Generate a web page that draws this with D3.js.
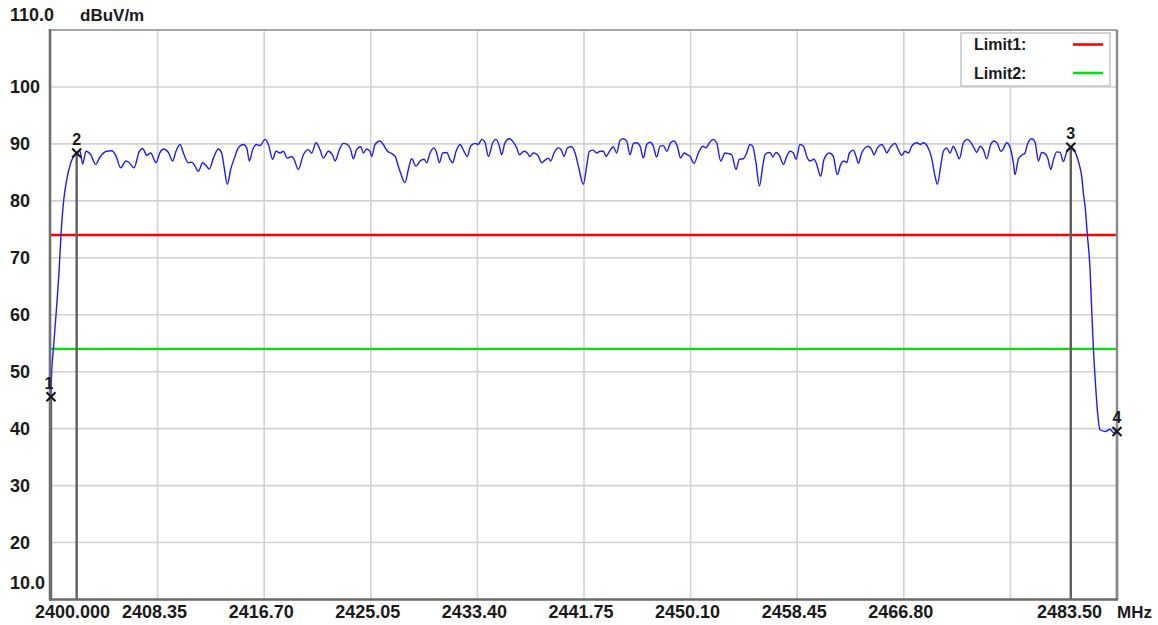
<!DOCTYPE html>
<html>
<head>
<meta charset="utf-8">
<script src="https://cdn.jsdelivr.net/npm/d3@7/dist/d3.min.js"></script>
<style>
  html, body { margin: 0; padding: 0; background: #ffffff; }
  svg { display: block; }
  text { font-family: "Liberation Sans", Arial, sans-serif; font-weight: bold; fill: #1a1a1a; }
</style>
</head>
<body>
<svg id="chart" width="1158" height="625"></svg>
<script>
// Frequency axis (MHz) and level axis (dBuV/m)
const freqStart = 2400.000;
const freqStop = 2483.50;
const levelMin = 10;
const levelMax = 110;

// Interior frequency grid lines and their labels
const freqGrid = [2408.35, 2416.70, 2425.05, 2433.40, 2441.75, 2450.10, 2458.45, 2466.80, 2475.15];
const freqGridLabels = ["2408.35", "2416.70", "2425.05", "2433.40", "2441.75", "2450.10", "2458.45", "2466.80", ""];
const startLabel = "2400.000";
const stopLabel = "2483.50";
const freqUnit = "MHz";

// Level grid lines and labels
const levelGrid = [20, 30, 40, 50, 60, 70, 80, 90, 100];
const levelGridLabels = ["20", "30", "40", "50", "60", "70", "80", "90", "100"];
const topLabel = "110.0";
const bottomLabel = "10.0";
const levelUnit = "dBuV/m";

// Limit lines
const limitNames = ["Limit1:", "Limit2:"];
const limitValues = [74, 54];
const limitColors = ["#ff0000", "#00e600"];

// Measured trace: frequency (MHz) and level (dBuV/m)
const traceFreq = [
  2400.00, 2400.05, 2400.18, 2400.44, 2400.65, 2400.78, 2400.97, 2401.23, 2401.54, 2401.80,
  2402.01, 2402.27, 2402.48, 2402.74, 2403.11, 2403.50, 2403.84, 2404.36, 2404.75, 2405.07,
  2405.46, 2405.87, 2406.13, 2406.50, 2406.92, 2407.18, 2407.50, 2407.81, 2408.22, 2408.54,
  2408.80, 2409.19, 2409.53, 2409.79, 2410.11, 2410.37, 2410.76, 2411.02, 2411.28, 2411.54,
  2411.88, 2412.14, 2412.40, 2412.72, 2413.11, 2413.37, 2413.55, 2413.81, 2414.07, 2414.41,
  2414.67, 2415.07, 2415.33, 2415.54, 2415.80, 2416.11, 2416.37, 2416.76, 2417.03, 2417.36,
  2417.63, 2417.94, 2418.20, 2418.51, 2418.85, 2419.04, 2419.37, 2419.77, 2420.16, 2420.42,
  2420.76, 2421.07, 2421.33, 2421.72, 2422.06, 2422.25, 2422.59, 2422.90, 2423.21, 2423.47,
  2423.68, 2423.94, 2424.26, 2424.47, 2424.73, 2424.99, 2425.12, 2425.38, 2425.77, 2426.03,
  2426.35, 2426.61, 2426.95, 2427.29, 2427.73, 2427.99, 2428.25, 2428.59, 2428.91, 2429.22,
  2429.43, 2429.69, 2430.00, 2430.21, 2430.42, 2430.68, 2430.99, 2431.26, 2431.46, 2431.73,
  2432.04, 2432.35, 2432.61, 2432.87, 2433.21, 2433.47, 2433.74, 2433.99, 2434.26, 2434.60,
  2434.86, 2435.12, 2435.30, 2435.56, 2435.90, 2436.22, 2436.48, 2436.69, 2437.05, 2437.31,
  2437.52, 2437.78, 2438.10, 2438.44, 2438.78, 2438.96, 2439.14, 2439.40, 2439.74, 2439.95,
  2440.19, 2440.45, 2440.79, 2441.05, 2441.31, 2441.70, 2441.96, 2442.17, 2442.48, 2442.74,
  2443.01, 2443.27, 2443.48, 2443.74, 2444.05, 2444.31, 2444.57, 2444.83, 2445.09, 2445.36,
  2445.62, 2445.88, 2446.14, 2446.40, 2446.66, 2446.92, 2447.18, 2447.44, 2447.71, 2447.97,
  2448.23, 2448.54, 2448.80, 2449.06, 2449.32, 2449.59, 2449.85, 2450.06, 2450.37, 2450.71,
  2451.05, 2451.31, 2451.57, 2451.88, 2452.14, 2452.46, 2452.80, 2453.06, 2453.32, 2453.66,
  2453.92, 2454.23, 2454.49, 2454.75, 2454.96, 2455.22, 2455.49, 2455.75, 2455.93, 2456.19,
  2456.37, 2456.53, 2456.79, 2457.05, 2457.37, 2457.63, 2457.89, 2458.15, 2458.36, 2458.67,
  2458.93, 2459.25, 2459.45, 2459.77, 2459.98, 2460.29, 2460.55, 2460.97, 2461.28, 2461.59,
  2461.86, 2462.12, 2462.33, 2462.54, 2462.85, 2463.06, 2463.24, 2463.50, 2463.76, 2464.02,
  2464.28, 2464.47, 2464.73, 2465.07, 2465.33, 2465.46, 2465.72, 2466.11, 2466.37, 2466.63,
  2466.90, 2467.16, 2467.42, 2467.81, 2468.12, 2468.33, 2468.64, 2468.98, 2469.25, 2469.43,
  2469.69, 2469.90, 2470.16, 2470.42, 2470.68, 2470.89, 2471.15, 2471.47, 2471.78, 2472.04,
  2472.30, 2472.51, 2472.77, 2473.03, 2473.29, 2473.61, 2473.87, 2474.13, 2474.39, 2474.55,
  2474.86, 2475.07, 2475.38, 2475.51, 2475.77, 2476.04, 2476.30, 2476.48, 2476.82, 2477.08,
  2477.34, 2477.60, 2477.86, 2478.08, 2478.31, 2478.52, 2478.78, 2479.04, 2479.30, 2479.56,
  2479.88, 2480.22, 2480.48, 2480.74, 2480.87, 2481.00, 2481.18, 2481.39, 2481.52, 2481.65,
  2481.78, 2481.96, 2482.17, 2482.57, 2482.96, 2483.22, 2483.50
];
const traceLevel = [
  45.6, 49.8, 53.8, 61.4, 68.4, 74.0, 79.6, 83.7, 86.6, 87.9,
  88.4, 88.7, 86.5, 88.7, 88.1, 86.4, 87.7, 88.7, 88.8, 88.0,
  85.8, 87.0, 86.7, 85.8, 88.7, 89.2, 88.0, 88.4, 86.7, 88.5,
  89.1, 88.5, 87.0, 88.7, 89.9, 88.4, 86.7, 86.8, 86.1, 85.2,
  86.7, 86.2, 85.6, 87.5, 89.1, 88.4, 86.1, 82.9, 85.5, 87.8,
  89.3, 89.9, 89.3, 87.0, 89.0, 89.9, 89.7, 90.8, 89.9, 87.3,
  88.7, 88.4, 88.7, 87.5, 87.8, 87.3, 85.5, 88.1, 89.0, 88.4,
  90.2, 89.0, 87.5, 88.7, 88.0, 87.0, 89.0, 90.1, 89.9, 89.0,
  87.4, 89.0, 89.5, 88.4, 89.1, 88.7, 87.8, 89.9, 90.5, 89.9,
  88.7, 88.4, 87.8, 85.5, 83.2, 85.5, 87.4, 86.1, 87.0, 87.3,
  86.7, 88.4, 89.3, 88.4, 86.7, 88.4, 88.5, 87.3, 86.7, 88.7,
  89.9, 88.7, 87.8, 89.6, 90.1, 89.9, 90.8, 90.3, 87.8, 90.2,
  90.8, 89.6, 88.1, 90.2, 90.9, 90.3, 89.3, 88.1, 88.7, 88.4,
  87.8, 88.4, 88.1, 86.7, 87.3, 87.5, 87.0, 88.4, 89.3, 89.0,
  87.8, 89.3, 89.5, 88.4, 86.1, 82.9, 86.1, 88.7, 88.9, 88.4,
  88.7, 88.7, 87.8, 88.7, 89.5, 88.4, 90.6, 90.9, 90.5, 88.1,
  90.1, 90.2, 89.6, 87.5, 89.9, 90.3, 89.6, 87.7, 89.6, 89.7,
  88.7, 90.2, 90.5, 89.6, 87.5, 88.4, 88.1, 87.8, 86.6, 88.4,
  89.6, 89.3, 90.2, 90.8, 90.2, 87.0, 88.4, 88.3, 88.1, 85.5,
  87.3, 87.4, 88.4, 89.9, 89.6, 86.7, 82.6, 86.1, 88.1, 88.5,
  88.4, 87.7, 88.5, 88.0, 86.4, 87.8, 88.7, 88.4, 87.3, 89.9,
  89.6, 87.5, 87.0, 87.3, 86.4, 84.3, 87.3, 88.4, 87.8, 84.6,
  86.4, 87.0, 86.7, 88.4, 88.9, 87.8, 86.6, 88.4, 89.3, 89.6,
  89.0, 88.1, 89.3, 89.9, 89.0, 88.4, 89.3, 90.1, 89.0, 88.0,
  88.7, 88.4, 89.6, 90.2, 89.9, 90.2, 89.6, 87.5, 84.3, 82.9,
  86.1, 88.7, 89.3, 88.4, 89.6, 88.7, 87.4, 90.2, 90.8, 90.3,
  89.3, 88.5, 89.6, 89.0, 87.4, 89.9, 90.5, 90.1, 88.7, 89.0,
  90.2, 89.7, 86.7, 84.6, 87.3, 88.0, 88.4, 89.9, 90.9, 90.3,
  87.0, 88.5, 88.3, 87.5, 85.5, 87.2, 88.6, 88.5, 86.9, 88.6,
  89.4, 88.6, 86.9, 84.2, 81.3, 79.0, 74.0, 67.9, 60.8, 54.1,
  49.1, 43.3, 39.8, 39.5, 39.9, 39.3, 39.5
];

// Markers placed on the trace
const markerNames = ["1", "2", "3", "4"];
const markerFreq = [2400.000, 2402.01, 2479.88, 2483.50];
const markerLevel = [45.6, 88.4, 89.4, 39.5];

const svg = d3.select("#chart");
const plot = { left: 51, right: 1117, top: 30, bottom: 599.5 };

const x = d3.scaleLinear().domain([freqStart, freqStop]).range([plot.left, plot.right]);
const y = d3.scaleLinear().domain([levelMin, levelMax]).range([plot.bottom, plot.top]);

svg.append("rect").attr("width", 1158).attr("height", 625).attr("fill", "#ffffff");

// Grid
const grid = svg.append("g").attr("stroke", "#d2d2d2").attr("stroke-width", 1.6);
grid.selectAll("line.v").data(freqGrid).join("line")
  .attr("class", "v")
  .attr("x1", d => x(d)).attr("x2", d => x(d))
  .attr("y1", plot.top).attr("y2", plot.bottom);
grid.selectAll("line.h").data(levelGrid).join("line")
  .attr("class", "h")
  .attr("x1", plot.left).attr("x2", plot.right)
  .attr("y1", d => y(d)).attr("y2", d => y(d));

// Limit lines
svg.append("g").selectAll("line").data(limitValues).join("line")
  .attr("x1", plot.left).attr("x2", plot.right)
  .attr("y1", d => y(d)).attr("y2", d => y(d))
  .attr("stroke", (d, i) => limitColors[i])
  .attr("stroke-width", 2.4);

// Marker drop lines
svg.append("g").selectAll("line").data(markerFreq).join("line")
  .attr("x1", d => x(d)).attr("x2", d => x(d))
  .attr("y1", (d, i) => y(markerLevel[i])).attr("y2", plot.bottom)
  .attr("stroke", "#5e5e5e")
  .attr("stroke-width", 2.4);

// Trace
const traceData = d3.zip(traceFreq, traceLevel);
svg.append("path")
  .datum(traceData)
  .attr("fill", "none")
  .attr("stroke", "#1c1cff")
  .attr("stroke-width", 1.4)
  .attr("stroke-linejoin", "round")
  .attr("d", d3.line().curve(d3.curveMonotoneX).x(d => x(d[0])).y(d => y(d[1])));

// Plot frame
const frame = svg.append("g");
frame.append("line").attr("x1", plot.left - 1).attr("x2", plot.right)
  .attr("y1", plot.top).attr("y2", plot.top)
  .attr("stroke", "#a6a6a6").attr("stroke-width", 1.8);
frame.append("line").attr("x1", plot.right).attr("x2", plot.right)
  .attr("y1", plot.top).attr("y2", plot.bottom)
  .attr("stroke", "#8a8a8a").attr("stroke-width", 2.4);
frame.append("line").attr("x1", plot.left - 1).attr("x2", plot.left - 1)
  .attr("y1", plot.top - 1).attr("y2", plot.bottom + 1)
  .attr("stroke", "#707070").attr("stroke-width", 2.6);
frame.append("line").attr("x1", plot.left - 2).attr("x2", plot.right + 1)
  .attr("y1", plot.bottom).attr("y2", plot.bottom)
  .attr("stroke", "#6a6a6a").attr("stroke-width", 2.6);

// Marker crosses and numbers
const mk = svg.append("g").selectAll("g").data(markerFreq).join("g")
  .attr("transform", (d, i) => `translate(${x(d)},${y(markerLevel[i])})`);
mk.append("path")
  .attr("d", "M-4.5,-4.5L4.5,4.5M4.5,-4.5L-4.5,4.5")
  .attr("stroke", "#1a1a1a").attr("stroke-width", 2.2);
mk.append("text")
  .attr("x", (d, i) => i === 0 ? -2 : 0)
  .attr("y", -8)
  .attr("text-anchor", "middle")
  .attr("font-size", 16)
  .text((d, i) => markerNames[i]);

// Legend
const legend = svg.append("g");
legend.append("rect")
  .attr("x", 961).attr("y", 33).attr("width", 149).attr("height", 53)
  .attr("fill", "#ffffff").attr("stroke", "#c6c6c6").attr("stroke-width", 1.5);
limitNames.forEach((name, i) => {
  const ly = 44.5 + i * 28.5;
  legend.append("text").attr("x", 974).attr("y", ly).attr("dy", "0.36em")
    .attr("font-size", 16).text(name);
  legend.append("line").attr("x1", 1073).attr("x2", 1103)
    .attr("y1", ly).attr("y2", ly)
    .attr("stroke", limitColors[i]).attr("stroke-width", 2.6);
});

// Level labels
const yl = svg.append("g").attr("font-size", 18);
yl.selectAll("text.tick").data(levelGrid).join("text")
  .attr("class", "tick")
  .attr("x", 10).attr("y", d => y(d)).attr("dy", "0.36em")
  .text((d, i) => levelGridLabels[i]);
yl.append("text").attr("x", 10).attr("y", 15).attr("dy", "0.36em").text(topLabel);
yl.append("text").attr("x", 10).attr("y", 583).attr("dy", "0.36em").text(bottomLabel);
yl.append("text").attr("x", 80).attr("y", 15).attr("dy", "0.36em").attr("font-size", 17).text(levelUnit);

// Frequency labels
const xl = svg.append("g").attr("font-size", 18);
xl.selectAll("text.tick").data(freqGrid).join("text")
  .attr("class", "tick")
  .attr("x", d => x(d) - 3).attr("y", 612).attr("dy", "0.36em")
  .attr("text-anchor", "middle")
  .text((d, i) => freqGridLabels[i]);
xl.append("text").attr("x", 35).attr("y", 612).attr("dy", "0.36em").text(startLabel);
xl.append("text").attr("x", 1102).attr("y", 612).attr("dy", "0.36em")
  .attr("text-anchor", "end").text(stopLabel);
xl.append("text").attr("x", 1117).attr("y", 612).attr("dy", "0.36em").attr("font-size", 17).text(freqUnit);
</script>
</body>
</html>
